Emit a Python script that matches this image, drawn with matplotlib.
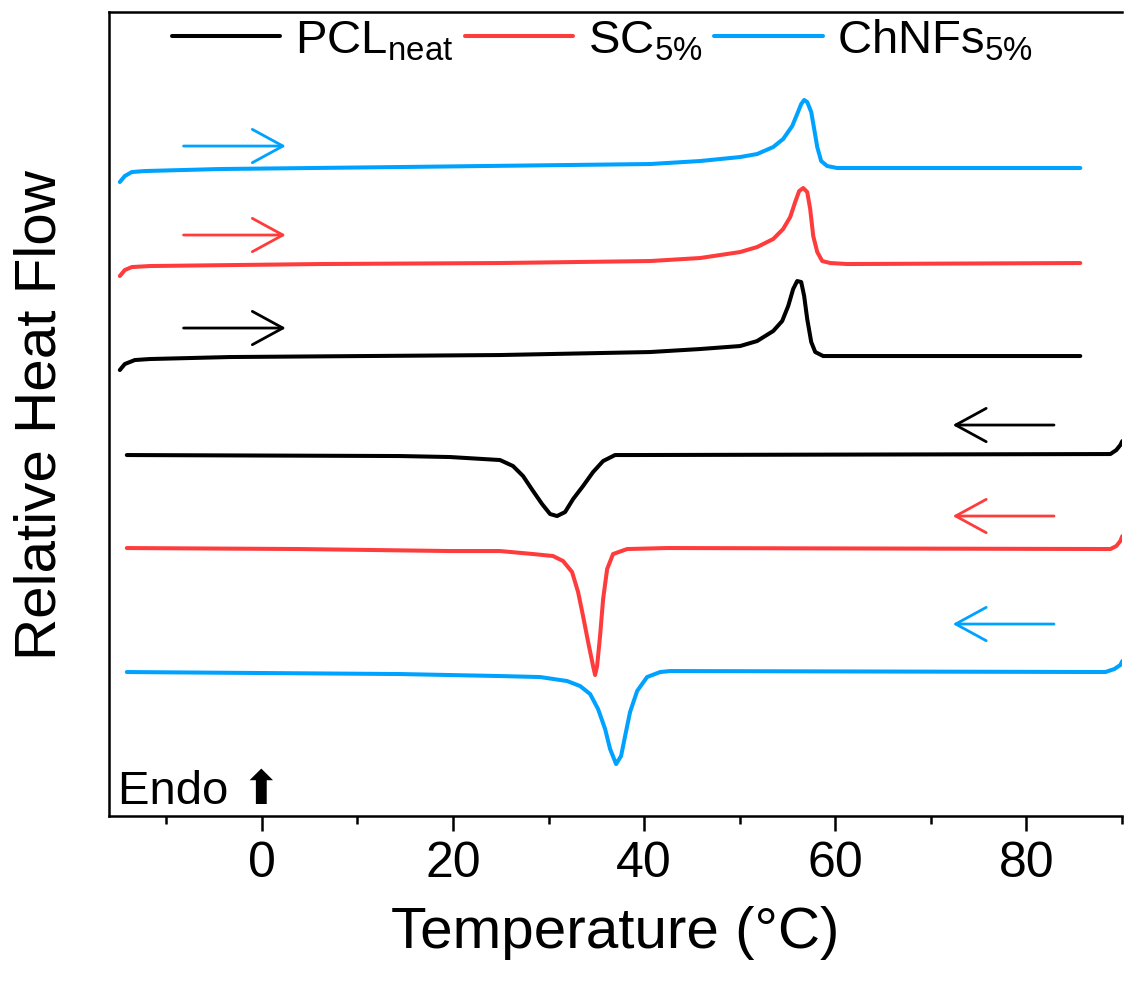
import matplotlib
matplotlib.use('Agg')
from matplotlib import pyplot as plt
from matplotlib.ticker import MultipleLocator

plt.rcParams['font.family'] = ['Liberation Sans', 'DejaVu Sans']
plt.rcParams['mathtext.fontset'] = 'custom'
plt.rcParams['mathtext.rm'] = 'Liberation Sans'
plt.rcParams['mathtext.it'] = 'Liberation Sans'

labels = [r'PCL$_{\mathrm{neat}}$', r'SC$_{\mathrm{5\%}}$', r'ChNFs$_{\mathrm{5\%}}$']
colors = ['black', '#FF3C3C', '#00A2FF']

# heating scans (upper traces), temperature in C, heat flow offset in arb. units
heat_pcl_T = [-14.87, -14.35, -13.30, -11.73, -3.35, 24.92, 40.63, 45.86, 50.05, 51.83,
              53.51, 54.45, 55.08, 55.60, 56.02, 56.44, 56.75, 57.07, 57.49, 57.91,
              58.74, 60.52, 85.65]
heat_pcl_y = [4.46, 4.52, 4.56, 4.57, 4.59, 4.61, 4.64, 4.67, 4.70, 4.75,
              4.85, 4.95, 5.10, 5.27, 5.35, 5.34, 5.20, 4.97, 4.74, 4.64,
              4.60, 4.60, 4.60]

heat_sc_T = [-14.87, -14.35, -13.61, -11.73, 6.07, 24.92, 40.63, 45.86, 50.05, 51.83,
             53.51, 54.55, 55.29, 55.81, 56.23, 56.65, 57.07, 57.38, 57.70, 58.12,
             58.64, 59.48, 61.26, 85.65]
heat_sc_y = [5.40, 5.46, 5.49, 5.50, 5.52, 5.53, 5.55, 5.58, 5.64, 5.69,
             5.77, 5.87, 5.99, 6.14, 6.25, 6.28, 6.24, 6.07, 5.80, 5.64,
             5.55, 5.53, 5.52, 5.53]

heat_ch_T = [-14.87, -14.35, -13.61, -12.25, -4.40, 14.45, 40.63, 45.86, 50.05, 51.83,
             53.51, 54.55, 55.50, 56.02, 56.44, 56.75, 57.07, 57.49, 57.80, 58.12,
             58.53, 59.16, 60.21, 85.65]
heat_ch_y = [6.34, 6.40, 6.44, 6.45, 6.47, 6.49, 6.52, 6.55, 6.59, 6.62,
             6.69, 6.77, 6.90, 7.02, 7.12, 7.16, 7.14, 7.04, 6.87, 6.69,
             6.55, 6.50, 6.48, 6.48]

# cooling scans (lower traces)
cool_pcl_T = [-14.14, 14.45, 19.69, 24.92, 26.28, 27.33, 28.38, 29.32, 30.16, 30.89,
              31.73, 32.57, 33.61, 34.66, 35.71, 36.96, 38.85, 88.80, 89.42, 89.84,
              90.05]
cool_pcl_y = [3.61, 3.60, 3.59, 3.56, 3.50, 3.40, 3.25, 3.12, 3.02, 3.00,
              3.04, 3.17, 3.30, 3.44, 3.55, 3.61, 3.61, 3.62, 3.66, 3.71,
              3.75]

cool_sc_T = [-14.14, 3.98, 19.69, 24.92, 28.38, 30.47, 31.52, 32.46, 33.09, 33.61,
             34.14, 34.66, 34.87, 35.08, 35.39, 35.71, 36.13, 36.75, 38.22, 42.41,
             88.80, 89.42, 89.84, 90.05]
cool_sc_y = [2.68, 2.67, 2.65, 2.65, 2.62, 2.60, 2.55, 2.44, 2.24, 2.00,
             1.74, 1.50, 1.41, 1.50, 1.80, 2.17, 2.47, 2.62, 2.67, 2.68,
             2.67, 2.70, 2.75, 2.80]

cool_ch_T = [-14.14, 14.45, 24.92, 29.11, 31.94, 33.30, 34.35, 35.18, 35.92, 36.44,
             37.07, 37.59, 38.01, 38.53, 39.27, 40.31, 41.68, 42.72, 88.27, 89.21,
             89.84, 90.05]
cool_ch_y = [1.44, 1.42, 1.40, 1.39, 1.35, 1.30, 1.22, 1.07, 0.87, 0.67,
             0.52, 0.60, 0.80, 1.04, 1.25, 1.39, 1.44, 1.45, 1.44, 1.47,
             1.51, 1.55]

heating = [(heat_pcl_T, heat_pcl_y), (heat_sc_T, heat_sc_y), (heat_ch_T, heat_ch_y)]
cooling = [(cool_pcl_T, cool_pcl_y), (cool_sc_T, cool_sc_y), (cool_ch_T, cool_ch_y)]

# scan direction arrows: (x_from, x_to, y)
heat_arrows = [(-8.2, 2.5, 4.88), (-8.2, 2.5, 5.81), (-8.2, 2.5, 6.70)]
cool_arrows = [(82.9, 72.3, 3.91), (82.9, 72.3, 3.00), (82.9, 72.3, 1.92)]

fig = plt.figure(figsize=(11.24, 9.87), dpi=100)
ax = fig.add_axes([0.097, 0.1722, 0.9011, 0.8146])

lines = []
for (T, y), c, lab in zip(heating, colors, labels):
    ln, = ax.plot(T, y, color=c, lw=2.9, label=lab, solid_capstyle='round',
                  solid_joinstyle='round')
    lines.append(ln)
for (T, y), c in zip(cooling, colors):
    ax.plot(T, y, color=c, lw=2.9, solid_capstyle='round', solid_joinstyle='round')

for arrows in (heat_arrows, cool_arrows):
    for (x0, x1, y), c in zip(arrows, colors):
        ax.annotate('', xy=(x1, y), xytext=(x0, y),
                    arrowprops=dict(arrowstyle='->,head_length=22,head_width=12',
                                    mutation_scale=1, color=c, lw=2.0,
                                    shrinkA=0, shrinkB=0))

ax.text(-15.1, 0.13, 'Endo \u2B06', fontsize=34, ha='left', va='baseline')

ax.set_xlim(-16, 90)
ax.set_ylim(0, 8.04)
ax.xaxis.set_major_locator(MultipleLocator(20))
ax.xaxis.set_minor_locator(MultipleLocator(10))
ax.set_yticks([])
ax.tick_params(axis='x', which='major', direction='out', length=11, width=1.8,
               labelsize=36, pad=6)
ax.tick_params(axis='x', which='minor', direction='out', length=6, width=1.8)
for side in ['left', 'bottom', 'top']:
    ax.spines[side].set_linewidth(1.8)
ax.spines['right'].set_visible(False)

ax.set_xlabel('Temperature (°C)', fontsize=42, labelpad=14)
ax.set_ylabel('Relative Heat Flow', fontsize=42, labelpad=30)

ax.legend(handles=lines, ncol=3, loc='center left', bbox_to_anchor=(0.062, 0.965),
          frameon=False, fontsize=34, handlelength=2.3, handletextpad=0.3,
          columnspacing=0.25, borderpad=0, borderaxespad=0)

fig.savefig('out.png', dpi=100)
